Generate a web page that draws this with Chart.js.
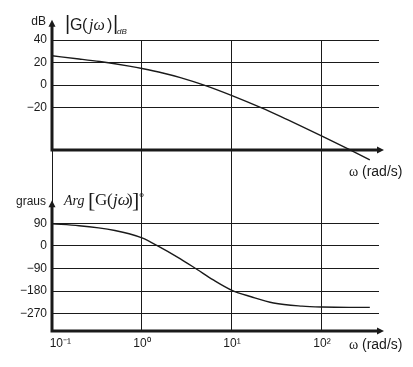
<!DOCTYPE html>
<html>
<head>
<meta charset="utf-8">
<script src="https://cdn.jsdelivr.net/npm/chart.js@4.4.1/dist/chart.umd.min.js"></script>
<style>
    html, body { margin: 0; padding: 0; background: #fff; }
    #wrap { position: relative; width: 413px; height: 367px; }
</style>
</head>
<body>
<div id="wrap"><canvas id="bodeChart"></canvas></div>
<script>
// magnitude curve
var magOmega = [0.1, 0.2, 0.34, 0.5, 0.72, 1, 1.7, 2.67, 4.9, 10, 21, 35, 100, 200, 340];
var magDb = [26, 23.2, 20.9, 18.9, 16.8, 14.7, 10.8, 6.7, 0, -9.3, -20, -28, -45.3, -57, -66.2];

// phase curve
var phaseOmega = [0.1, 0.2, 0.33, 0.5, 0.72, 1, 1.46, 2.67, 4.1, 6.2, 10, 16.3, 29, 60, 100, 200, 340];
var phaseDeg = [88, 80.5, 71.7, 61.3, 48.5, 31.7, 2.2, -51.5, -94, -135.6, -177, -202.6, -227.6, -240, -243.5, -245, -245];

// ticks
var omegaTicks = [0.1, 1, 10, 100];
var omegaLabels = ["     10\u207B\u00B9", "10\u2070", "10\u00B9", "10\u00B2"];
var dbTicks = [40, 20, 0, -20];
var degTicks = [90, 0, -90, -180, -270];

var SANS = "'Liberation Sans', Arial, sans-serif";
var SERIF = "'Liberation Serif', 'Times New Roman', serif";
var INK = "#1a1a1a";

function toPoints(xs, ys) {
    var pts = [];
    for (var i = 0; i < xs.length; i++) {
        pts.push({ x: xs[i], y: ys[i] });
    }
    return pts;
}

function minus(v) {
    return v < 0 ? "\u2212" + Math.abs(v) : String(v);
}

function drawRuns(ctx, y, runs) {
    runs.forEach(function (r) {
        ctx.font = r.font;
        ctx.fillText(r.text, r.x, y + (r.dy || 0));
    });
}

function arrowUp(ctx, x, tip) {
    ctx.beginPath();
    ctx.moveTo(x, tip);
    ctx.lineTo(x - 3.5, tip + 7);
    ctx.lineTo(x + 3.5, tip + 7);
    ctx.closePath();
    ctx.fill();
}

function arrowRight(ctx, tip, y) {
    ctx.beginPath();
    ctx.moveTo(tip, y);
    ctx.lineTo(tip - 7, y - 3.5);
    ctx.lineTo(tip - 7, y + 3.5);
    ctx.closePath();
    ctx.fill();
}

// thick axes with arrows + the panel labels
var bodeDecor = {
    id: "bodeDecor",
    afterDraw: function (chart) {
        var ctx = chart.ctx;
        var area = chart.chartArea;
        var ym = chart.scales.yMag;
        var yp = chart.scales.yPhase;
        var x0 = area.left;
        var xTip = area.right + 5;

        var magBase = ym.getPixelForValue(-57.5);
        var magTip = ym.getPixelForValue(58);
        var phBase = yp.getPixelForValue(-339);
        var phTip = yp.getPixelForValue(182);

        ctx.save();
        ctx.strokeStyle = INK;
        ctx.fillStyle = INK;
        ctx.lineWidth = 3;
        ctx.lineCap = "butt";

        [[magBase, magTip], [phBase, phTip]].forEach(function (p) {
            ctx.beginPath();
            ctx.moveTo(x0, p[0] + 1.5);
            ctx.lineTo(x0, p[1] + 6);
            ctx.moveTo(x0 - 1.5, p[0]);
            ctx.lineTo(xTip - 6, p[0]);
            ctx.stroke();
            arrowUp(ctx, x0, p[1]);
            arrowRight(ctx, xTip, p[0]);
        });

        ctx.textBaseline = "alphabetic";
        ctx.textAlign = "right";
        ctx.font = "12px " + SANS;
        ctx.fillText("dB", 46, 25);
        ctx.fillText("graus", 46, 205);

        ctx.textAlign = "left";
        drawRuns(ctx, 30, [
            { text: "|", x: 65, font: "20px " + SANS },
            { text: "G", x: 70, font: "16px " + SANS },
            { text: "(", x: 82, font: "16px " + SANS },
            { text: "j\u03C9", x: 89, font: "italic 16px " + SERIF },
            { text: ")", x: 107, font: "16px " + SANS },
            { text: "|", x: 113, font: "20px " + SANS },
            { text: "dB", x: 117, dy: 4, font: "italic 8px " + SANS }
        ]);
        drawRuns(ctx, 205, [
            { text: "Arg", x: 64, font: "italic 14px " + SERIF },
            { text: "[", x: 88, dy: 2, font: "22px " + SERIF },
            { text: "G", x: 95, font: "17px " + SERIF },
            { text: "(", x: 107, font: "17px " + SERIF },
            { text: "j\u03C9", x: 113, font: "italic 17px " + SERIF },
            { text: ")", x: 127, font: "17px " + SERIF },
            { text: "]", x: 132, dy: 2, font: "22px " + SERIF },
            { text: "\u00B0", x: 139, dy: -4, font: "13px " + SERIF }
        ]);

        ctx.textBaseline = "middle";
        [172, 345].forEach(function (y) {
            ctx.font = "14px " + SERIF;
            ctx.fillText("\u03C9", 349, y);
            ctx.font = "14px " + SANS;
            ctx.fillText("(rad/s)", 362, y);
        });
        ctx.restore();
    }
};

var gridStyle = { color: INK, lineWidth: 1, drawTicks: false };
var tickFont = { family: SANS, size: 12 };

var ctx = document.getElementById("bodeChart");
var bodeChart = new Chart(ctx, {
    type: "line",
    data: {
        datasets: [{
            data: toPoints(magOmega, magDb),
            yAxisID: "yMag",
            borderColor: INK,
            borderWidth: 1.4,
            pointRadius: 0,
            cubicInterpolationMode: "monotone"
        }, {
            data: toPoints(phaseOmega, phaseDeg),
            yAxisID: "yPhase",
            borderColor: INK,
            borderWidth: 1.4,
            pointRadius: 0,
            cubicInterpolationMode: "monotone"
        }]
    },
    options: {
        responsive: true,
        maintainAspectRatio: false,
        animation: false,
        layout: { padding: { top: 40, right: 34, left: 0, bottom: 0 } },
        plugins: { legend: { display: false }, tooltip: { enabled: false } },
        scales: {
            x: {
                type: "logarithmic",
                position: "bottom",
                min: 0.1,
                max: 430,
                grid: gridStyle,
                border: { display: false },
                ticks: {
                    font: tickFont,
                    color: INK,
                    padding: 5,
                    autoSkip: false,
                    maxRotation: 0,
                    callback: function (v) {
                        var i = omegaTicks.indexOf(v);
                        return i < 0 ? "" : omegaLabels[i];
                    }
                },
                afterBuildTicks: function (scale) {
                    scale.ticks = omegaTicks.map(function (v) { return { value: v }; });
                },
                afterFit: function (scale) { scale.height = 36; }
            },
            yMag: {
                type: "linear",
                position: "left",
                stack: "bode",
                stackWeight: 146,
                weight: 2,
                min: -89.4,
                max: 40,
                grid: gridStyle,
                border: { display: false },
                ticks: { font: tickFont, color: INK, padding: 5, callback: minus },
                afterBuildTicks: function (scale) {
                    scale.ticks = dbTicks.map(function (v) { return { value: v }; });
                },
                afterFit: function (scale) { scale.width = 52; }
            },
            yPhase: {
                type: "linear",
                position: "left",
                stack: "bode",
                stackWeight: 145,
                weight: 1,
                min: -339,
                max: 238.6,
                grid: gridStyle,
                border: { display: false },
                ticks: { font: tickFont, color: INK, padding: 5, callback: minus },
                afterBuildTicks: function (scale) {
                    scale.ticks = degTicks.map(function (v) { return { value: v }; });
                },
                afterFit: function (scale) { scale.width = 52; }
            }
        }
    },
    plugins: [bodeDecor]
});
</script>
</body>
</html>
